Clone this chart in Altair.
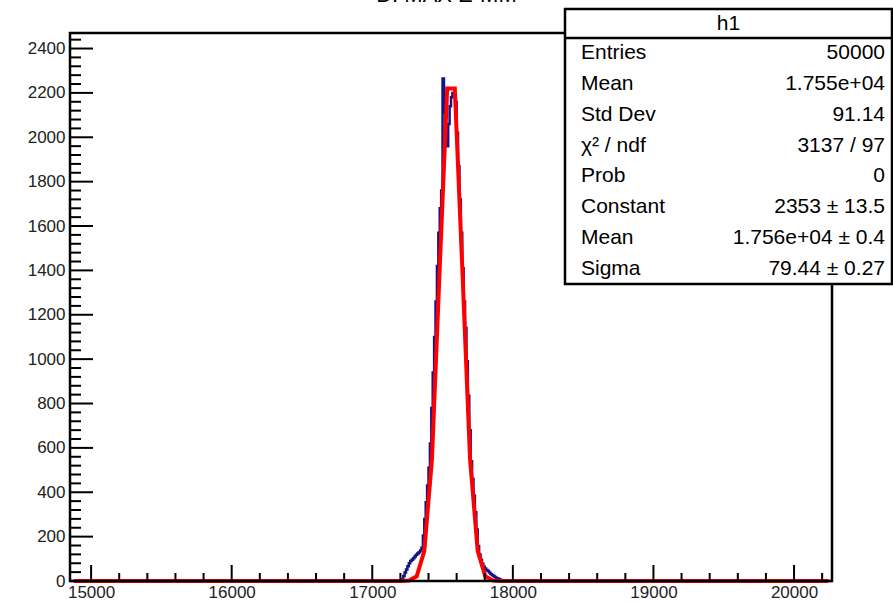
import math
import altair as alt
import pandas as pd

# ---- histogram h1 (10-unit bins; only the populated stretch is listed) ----
x_min, x_max = 14850, 20270
y_max = 2470
bin_low = 17200
bin_width = 10
counts = [
    0, 8, 22, 38, 52, 66, 80, 90, 96, 102,
    110, 118, 124, 130, 138, 150, 205, 280, 355, 430,
    510, 620, 780, 940, 1100, 1260, 1420, 1570, 1680, 1760,
    2265, 2110, 2030, 1960, 2060, 2140, 2180, 2200, 2190, 2160,
    2020, 1870, 1720, 1570, 1410, 1260, 1140, 990, 835, 680,
    540, 460, 385, 310, 232, 158, 120, 96, 78, 64,
    56, 50, 45, 38, 32, 27, 22, 18, 14, 11,
    8, 5, 2, 0,
]

# ---- gaussian fit parameters ----
fit_constant = 2353
fit_mean = 17560
fit_sigma = 79.44
fit_npx = 100

# ---- axis ticks ----
x_major = [15000, 16000, 17000, 18000, 19000, 20000]
y_major = [0, 200, 400, 600, 800, 1000, 1200, 1400, 1600, 1800, 2000, 2200, 2400]

# ---- stats box ----
box_title = "h1"
stat_labels = ["Entries", "Mean", "Std Dev", "χ² / ndf", "Prob", "Constant", "Mean", "Sigma"]
stat_values = ["50000", "1.755e+04", "91.14", "3137 / 97", "0",
               "2353 ± 13.5", "1.756e+04 ± 0.4", "79.44 ± 0.27"]
pad_title = "D. MAX E-MM"

W, H = 762, 548
FONT = "Liberation Sans"
HIST_COLOR = "#14148a"
FIT_COLOR = "#ff0000"

# histogram outline as a step line across the whole axis range
edges = [bin_low + bin_width * i for i in range(len(counts) + 1)]
hist_df = pd.DataFrame({
    "x": [x_min] + edges[:-1] + [edges[-1], x_max],
    "y": [0] + counts + [0, 0],
})

# fit function sampled at fit_npx cell centres over the axis range
dx = (x_max - x_min) / fit_npx
fit_x = [x_min + (i + 0.5) * dx for i in range(fit_npx)]
fit_df = pd.DataFrame({
    "x": fit_x,
    "y": [fit_constant * math.exp(-0.5 * ((v - fit_mean) / fit_sigma) ** 2) for v in fit_x],
})

xscale = alt.Scale(domain=[x_min, x_max], nice=False, zero=False)
yscale = alt.Scale(domain=[0, y_max], nice=False, zero=False)
x_axis = alt.Axis(
    values=x_major, format="d", ticks=False, domain=False, grid=False,
    labelFontSize=17, labelFont=FONT, labelColor="#222222", labelPadding=3,
    labelFlush=False, title=None)
y_axis = alt.Axis(
    values=y_major, format="d", ticks=False, domain=False, grid=False,
    labelFontSize=17, labelFont=FONT, labelColor="#222222", labelPadding=5,
    labelFlush=False, title=None)

hist = alt.Chart(hist_df).mark_line(
    interpolate="step-after", color=HIST_COLOR, strokeWidth=2.5
).encode(
    x=alt.X("x:Q", scale=xscale, axis=x_axis),
    y=alt.Y("y:Q", scale=yscale, axis=y_axis),
)

fit = alt.Chart(fit_df).mark_line(color=FIT_COLOR, strokeWidth=4).encode(
    x=alt.X("x:Q", scale=xscale, axis=x_axis),
    y=alt.Y("y:Q", scale=yscale, axis=y_axis),
)

# inward-pointing ticks, ROOT style
x_minor = [v for v in range(15000, x_max, 200) if v not in x_major]
y_minor = [v for v in range(40, y_max, 40) if v not in y_major]

xt_major = alt.Chart(pd.DataFrame({"x": x_major})).mark_rule(color="black", strokeWidth=2).encode(
    x=alt.X("x:Q", scale=xscale, axis=x_axis), y=alt.value(H), y2=alt.value(H - 16))
xt_minor = alt.Chart(pd.DataFrame({"x": x_minor})).mark_rule(color="black", strokeWidth=2).encode(
    x=alt.X("x:Q", scale=xscale, axis=x_axis), y=alt.value(H), y2=alt.value(H - 8))
yt_major = alt.Chart(pd.DataFrame({"y": y_major})).mark_rule(color="black", strokeWidth=2).encode(
    y=alt.Y("y:Q", scale=yscale, axis=y_axis), x=alt.value(0), x2=alt.value(23))
yt_minor = alt.Chart(pd.DataFrame({"y": y_minor})).mark_rule(color="black", strokeWidth=2).encode(
    y=alt.Y("y:Q", scale=yscale, axis=y_axis), x=alt.value(0), x2=alt.value(11))

one = pd.DataFrame({"a": [0]})

frame = alt.Chart(one).mark_rect(filled=False, stroke="black", strokeWidth=2.5).encode(
    x=alt.value(0), x2=alt.value(W), y=alt.value(0), y2=alt.value(H))

# stats box (pixel positions relative to the plot area)
bx0, bx1, by0, by1, bdiv = 495, 822, -24, 251, 5
box = alt.Chart(one).mark_rect(fill="white", stroke="black", strokeWidth=2.5).encode(
    x=alt.value(bx0), x2=alt.value(bx1), y=alt.value(by0), y2=alt.value(by1))
divider = alt.Chart(one).mark_rule(color="black", strokeWidth=2.5).encode(
    x=alt.value(bx0), x2=alt.value(bx1), y=alt.value(bdiv))
box_head = alt.Chart(one).mark_text(
    text=box_title, font=FONT, fontSize=21, align="center", baseline="middle", color="black"
).encode(x=alt.value((bx0 + bx1) / 2), y=alt.value((by0 + bdiv) / 2))

row_h = (by1 - bdiv) / len(stat_labels)
stat_layers = []
for i, (lab, val) in enumerate(zip(stat_labels, stat_values)):
    yc = bdiv + row_h * (i + 0.5)
    stat_layers.append(alt.Chart(one).mark_text(
        text=lab, font=FONT, fontSize=21, align="left", baseline="middle", color="black"
    ).encode(x=alt.value(bx0 + 16), y=alt.value(yc)))
    stat_layers.append(alt.Chart(one).mark_text(
        text=val, font=FONT, fontSize=21, align="right", baseline="middle", color="black"
    ).encode(x=alt.value(bx1 - 7), y=alt.value(yc)))

# pad title, sitting mostly above the top edge of the page
title = alt.Chart(one).mark_text(
    text=pad_title, font=FONT, fontSize=22, align="center", baseline="alphabetic", color="black"
).encode(x=alt.value(893 / 2 - 70), y=alt.value(-31))

chart = alt.layer(
    hist, fit, xt_major, xt_minor, yt_major, yt_minor, frame,
    box, divider, box_head, *stat_layers, title,
).properties(
    width=W, height=H,
    autosize=alt.AutoSizeParams(type="none"),
    padding={"left": 70, "top": 33, "right": 61, "bottom": 22},
).configure_view(stroke=None).configure(background="white")

chart.save("out.html", embed_options={"renderer": "svg", "actions": False})
